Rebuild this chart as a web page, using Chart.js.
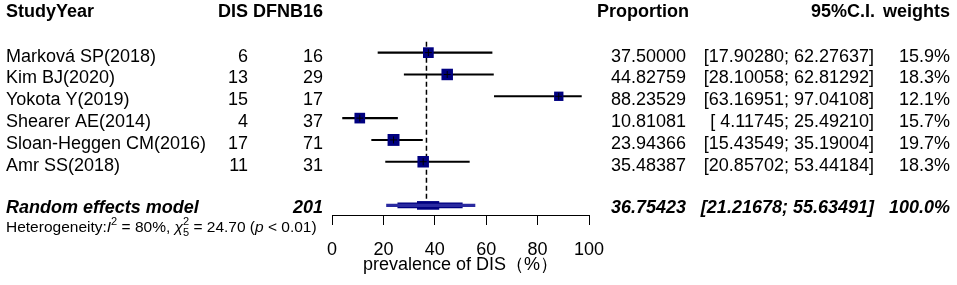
<!DOCTYPE html>
<html>
<head>
<meta charset="utf-8">
<script src="https://cdn.jsdelivr.net/npm/chart.js@4.4.0/dist/chart.umd.min.js"></script>
<style>
  body { margin: 0; background: #fff; }
  #wrap { width: 957px; height: 285px; position: relative; }
</style>
</head>
<body>
<div id="wrap"><canvas id="forest"></canvas></div>
<script>
// study data
const studies = ['Marková SP(2018)', 'Kim BJ(2020)', 'Yokota Y(2019)', 'Shearer AE(2014)', 'Sloan-Heggen CM(2016)', 'Amr SS(2018)'];
const events = [6, 13, 15, 4, 17, 11];
const totals = [16, 29, 17, 37, 71, 31];
const proportions = [37.50000, 44.82759, 88.23529, 10.81081, 23.94366, 35.48387];
const ciLower = [17.90280, 28.10058, 63.16951, 4.11745, 15.43549, 20.85702];
const ciUpper = [62.27637, 62.81292, 97.04108, 25.49210, 35.19004, 53.44184];
const weights = [15.9, 18.3, 12.1, 15.7, 19.7, 18.3];

const pooledLabel = 'Random effects model';
const pooledTotal = 201;
const pooledEstimate = 36.75423;
const pooledLower = 21.21678;
const pooledUpper = 55.63491;
const pooledWeight = 100.0;
// the summary shape is drawn as stepped bands (outer = CI)
const pooledBands = [[21.21678, 55.63491], [25.6, 50.7], [33.2, 41.6]];

const xTicks = [0, 20, 40, 60, 80, 100];

const NAVY = '#000080';
const FONT = 'Liberation Sans, Arial, sans-serif';

const rowOf = i => i + 1;
const POOLED_ROW = 8;

function fmt5(v) { return v.toFixed(5); }
function fmtCI(lo, hi) {
  const pad = s => (s.length < 8 ? ' '.repeat(8 - s.length) + s : s);
  return '[' + pad(fmt5(lo)) + '; ' + pad(fmt5(hi)) + ']';
}

// draws all the text columns beside the plot
const textColumns = {
  id: 'textColumns',
  afterDraw(chart) {
    const ctx = chart.ctx;
    const y = chart.scales.y;
    ctx.save();
    ctx.fillStyle = '#000';
    ctx.textBaseline = 'alphabetic';

    const put = (txt, x, yy, align, style) => {
      ctx.font = style + ' 18px ' + FONT;
      ctx.textAlign = align;
      ctx.fillText(txt, x, yy);
    };

    // header
    const hy = y.getPixelForValue(-1) + 8;
    put('StudyYear', 6, hy, 'left', 'bold');
    put('DIS', 248, hy, 'right', 'bold');
    put('DFNB16', 323, hy, 'right', 'bold');
    put('Proportion', 597, hy, 'left', 'bold');
    put('95%C.I.', 875, hy, 'right', 'bold');
    put('weights', 950, hy, 'right', 'bold');

    studies.forEach((s, i) => {
      const ty = y.getPixelForValue(rowOf(i)) + 9;
      put(s, 6, ty, 'left', 'normal');
      put(String(events[i]), 248, ty, 'right', 'normal');
      put(String(totals[i]), 323, ty, 'right', 'normal');
      put(fmt5(proportions[i]), 686, ty, 'right', 'normal');
      put(fmtCI(ciLower[i], ciUpper[i]), 874, ty, 'right', 'normal');
      put(weights[i].toFixed(1) + '%', 950, ty, 'right', 'normal');
    });

    const py = y.getPixelForValue(POOLED_ROW) + 7.5;
    put(pooledLabel, 6, py, 'left', 'italic bold');
    put(String(pooledTotal), 323, py, 'right', 'italic bold');
    put(fmt5(pooledEstimate), 686, py, 'right', 'italic bold');
    put(fmtCI(pooledLower, pooledUpper), 874, py, 'right', 'italic bold');
    put(pooledWeight.toFixed(1) + '%', 950, py, 'right', 'italic bold');

    // heterogeneity line
    let x = 6;
    const by = 232;
    ctx.textAlign = 'left';
    const seg = (txt, style, size, dy) => {
      ctx.font = style + ' ' + size + 'px ' + FONT;
      ctx.fillText(txt, x, by + dy);
      return ctx.measureText(txt).width;
    };
    x += seg('Heterogeneity:', 'normal', 15.5, 0);
    x += seg('I', 'italic', 15.5, 0);
    x += seg('2', 'normal', 11, -7);
    x += seg(' = 80%, ', 'normal', 15.5, 0);
    x += seg('\u03c7', 'italic', 15.5, 0);
    const w1 = seg('2', 'normal', 11, -7);
    const w2 = seg('5', 'normal', 11, 4);
    x += Math.max(w1, w2);
    x += seg(' = 24.70 (', 'normal', 15.5, 0);
    x += seg('p', 'italic', 15.5, 0);
    seg(' < 0.01)', 'normal', 15.5, 0);
    ctx.restore();
  }
};

const ciData = studies.map((s, i) => ({ x: [ciLower[i], ciUpper[i]], y: rowOf(i) }));
const pointData = studies.map((s, i) => ({ x: proportions[i], y: rowOf(i) }));

const datasets = [
  {
    type: 'scatter', label: 'centre', order: 0,
    data: pointData, pointStyle: 'cross', pointRadius: 3.5,
    borderColor: '#000', borderWidth: 1, backgroundColor: '#000'
  },
  {
    type: 'scatter', label: 'studies', order: 1,
    data: pointData, pointStyle: 'rect',
    pointRadius: weights.map(w => Math.sqrt(w) * 1.9),
    backgroundColor: NAVY, borderColor: NAVY, borderWidth: 0
  },
  {
    type: 'bar', label: 'ci', order: 2, indexAxis: 'y', grouped: false,
    data: ciData, backgroundColor: '#000', barThickness: 1.4
  },
  {
    type: 'line', label: 'pooled line', order: 3,
    data: [{ x: pooledEstimate, y: 0.5 }, { x: pooledEstimate, y: 7.75 }],
    borderColor: '#000', borderWidth: 1.5, borderDash: [5, 3], pointRadius: 0
  }
];
pooledBands.forEach((band, k) => {
  datasets.push({
    type: 'bar', label: 'pooled ' + k, order: 1, indexAxis: 'y', grouped: false,
    data: [{ x: band, y: POOLED_ROW }],
    backgroundColor: k === 0 ? '#2a2aa0' : NAVY,
    barThickness: [2.5, 5, 8][k]
  });
});

new Chart(document.getElementById('forest'), {
  type: 'bar',
  data: { datasets },
  options: {
    responsive: true,
    maintainAspectRatio: false,
    animation: false,
    indexAxis: 'y',
    layout: { padding: { left: 332, right: 368, top: 9, bottom: 11 } },
    plugins: { legend: { display: false }, tooltip: { enabled: false } },
    scales: {
      x: {
        type: 'linear', position: 'bottom', min: 0, max: 100,
        afterBuildTicks: s => { s.ticks = xTicks.map(v => ({ value: v })); },
        afterFit: s => { s.height = 59; },
        grid: { drawOnChartArea: false, drawTicks: true, tickLength: 10, color: '#000', lineWidth: 1 },
        border: { display: true, color: '#000', width: 1 },
        ticks: { color: '#000', padding: 16, maxRotation: 0, font: { family: FONT, size: 18, lineHeight: 1 } },
        title: {
          display: true, text: 'prevalence of DIS（%）', color: '#000',
          font: { family: FONT, size: 18, lineHeight: 1 }, padding: { top: 0, bottom: 0 }
        }
      },
      y: { type: 'linear', min: -1, max: 8.44, reverse: true, display: false, offset: false }
    }
  },
  plugins: [textColumns]
});
</script>
</body>
</html>
